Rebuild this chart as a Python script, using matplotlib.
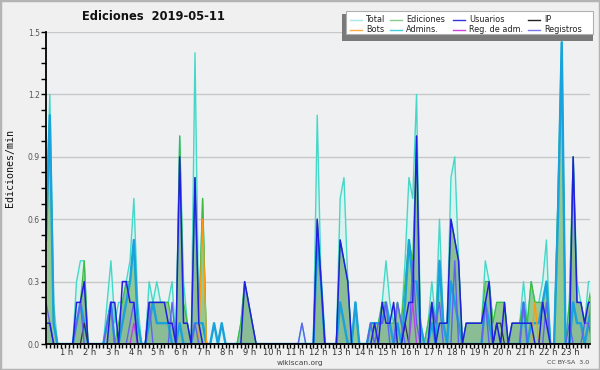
import matplotlib
matplotlib.use('Agg')
import matplotlib.pyplot as plt
import numpy as np
from matplotlib.patches import Rectangle
from matplotlib.lines import Line2D
import matplotlib.transforms as mtransforms

# 10-minute bins, edits per minute
total = [0.6,1.2,0.2,0,0,0,0,0,0.3,0.4,0.4,0,
         0,0,0,0,0.2,0.4,0.1,0.2,0.2,0.3,0.4,0.7,
         0.2,0,0,0.3,0.2,0.3,0.2,0.2,0.2,0.3,0,1.0,
         0.3,0.1,0,1.4,0.1,0.7,0,0,0.1,0,0.1,0,
         0,0,0,0.1,0.3,0.2,0.1,0,0,0,0,0,
         0,0,0,0,0,0,0,0.1,0,0,0,1.1,
         0.3,0,0,0,0,0.7,0.8,0.3,0,0.2,0,0,
         0,0.1,0.1,0.1,0.2,0.4,0.2,0.1,0.2,0.1,0.4,0.8,
         0.7,1.2,0.1,0,0.1,0.3,0.1,0.6,0.1,0.1,0.8,0.9,
         0.4,0,0.1,0.1,0.1,0.1,0.1,0.4,0.3,0.1,0.2,0.2,
         0.2,0,0.1,0.1,0.1,0.3,0.1,0.3,0.2,0.2,0.3,0.5,
         0,0,0.7,1.5,0,0.2,0.9,0.3,0.2,0.1,0.3,0.3]
ediciones = [0.6,1.1,0.1,0,0,0,0,0,0.1,0.2,0.4,0,
             0,0,0,0,0.1,0.2,0,0.1,0.2,0.3,0.3,0.5,
             0.1,0,0,0.2,0.2,0.2,0.2,0.2,0.2,0.1,0,1.0,
             0.2,0.1,0,0.8,0.1,0.7,0,0,0,0,0,0,
             0,0,0,0.1,0.3,0.2,0.1,0,0,0,0,0,
             0,0,0,0,0,0,0,0,0,0,0,0.6,
             0.3,0,0,0,0,0.5,0.4,0.3,0,0.2,0,0,
             0,0.1,0.1,0.1,0.2,0.2,0.1,0.1,0.2,0.1,0.3,0.5,
             0.4,1.0,0.1,0,0.1,0.2,0.1,0.4,0.1,0.1,0.6,0.5,
             0.4,0,0.1,0.1,0.1,0.1,0.1,0.3,0.3,0.1,0.2,0.2,
             0.2,0,0.1,0.1,0.1,0.2,0.1,0.3,0.2,0.2,0.2,0.3,
             0,0,0.7,1.4,0,0.2,0.9,0.2,0.2,0.1,0.2,0.3]
admins = [0.5,1.1,0.1,0,0,0,0,0,0.1,0.2,0.1,0,
          0,0,0,0,0.1,0.2,0,0,0.1,0.2,0.3,0.5,
          0.1,0,0,0.1,0.2,0.1,0.1,0.1,0.1,0,0,0.1,
          0,0,0,0.1,0.1,0.1,0,0,0.1,0,0.1,0,
          0,0,0,0,0,0,0,0,0,0,0,0,
          0,0,0,0,0,0,0,0,0,0,0,0.5,
          0.3,0,0,0,0,0.2,0.1,0,0,0.2,0,0,
          0,0.1,0.1,0.1,0.1,0.2,0.1,0,0.1,0,0.2,0.5,
          0.3,0.3,0.1,0,0,0.1,0,0.4,0.1,0,0.3,0.2,
          0.1,0,0,0,0,0,0,0.2,0.1,0,0,0,
          0,0,0,0,0,0.2,0,0.1,0.1,0.1,0.2,0.3,
          0,0,0.6,1.45,0,0,0.2,0.1,0.1,0,0.1,0.2]
usuarios = [0.1,0.1,0,0,0,0,0,0,0.2,0.2,0.3,0,
            0,0,0,0,0,0.2,0.2,0,0.3,0.3,0.2,0.2,
            0,0,0,0.2,0.2,0.2,0.2,0.2,0.1,0.1,0,0.9,
            0.1,0.1,0,0.8,0.1,0,0,0,0,0,0,0,
            0,0,0,0,0.3,0.2,0.1,0,0,0,0,0,
            0,0,0,0,0,0,0,0,0,0,0,0.6,
            0.3,0,0,0,0,0.5,0.4,0.3,0,0,0,0,
            0,0,0.1,0,0.2,0.1,0.1,0.2,0,0,0.1,0.2,
            0.2,1.0,0,0,0,0.2,0,0.1,0.1,0.1,0.6,0.5,
            0.4,0,0.1,0.1,0.1,0.1,0.1,0.2,0.3,0,0.1,0,
            0.2,0,0.1,0.1,0.1,0.1,0.1,0.1,0,0,0.2,0.1,
            0,0,0,0,0,0,0.9,0.2,0.2,0.1,0.2,0.2]
registros = [0.2,0.1,0,0,0,0,0,0,0.1,0.2,0,0,
             0,0,0,0,0.1,0.2,0,0,0,0,0.1,0.2,
             0,0,0,0.2,0,0,0,0,0,0.2,0,0,
             0,0,0,0.1,0,0,0,0,0,0,0,0,
             0,0,0,0,0,0,0,0,0,0,0,0,
             0,0,0,0,0,0,0,0.1,0,0,0,0,
             0,0,0,0,0,0,0,0,0,0,0,0,
             0,0.1,0,0.1,0.1,0.2,0,0,0.2,0.1,0,0,
             0.4,0.1,0,0,0,0.2,0.1,0.2,0,0,0,0.4,
             0,0,0,0,0,0,0,0.2,0,0,0,0,
             0,0,0,0,0,0.2,0,0,0,0,0,0.2,
             0,0,0,0,0,0.1,0,0,0,0.1,0.1,0]
ip = [0,0,0,0,0,0,0,0,0,0,0.1,0] + [0]*72 + \
     [0,0,0,0,0,0,0,0,0,0,0.1,0] + [0]*12 + \
     [0,0,0,0,0,0,0,0,0,0,0.1,0.1] + [0]*24
bots = [0]*41 + [0.6] + [0]*86 + [0.2] + [0]*15
regadm = [0]*23 + [0.1] + [0]*72 + [0.2] + [0]*47
hours = list(range(1, 24))
hour_labels = [f"{h} h" for h in hours]

W, H = 600, 370
fig = plt.figure(figsize=(6, 3.7), dpi=100, facecolor='#f0f0f0')
fig.patches.append(Rectangle((0, 0), 1, 1, transform=fig.transFigure, fill=False,
                             edgecolor='#b4b4b4', lw=2.5, zorder=0))
ax = fig.add_axes([46/W, 26/H, 544/W, 312/H])
ax.set_facecolor('#eef0f2')

x = np.arange(len(total))
ax.fill_between(x, total, color='#d8f3ef', lw=0, zorder=1)
ax.fill_between(x, ediciones, color='#93ca93', lw=0, zorder=1.1)
ax.fill_between(x, usuarios, color='#5060b0', alpha=0.12, lw=0, zorder=1.2)
ax.plot(x, total, color='#45d8c8', lw=1.0, zorder=2)
ax.plot(x, ediciones, color='#3fbb3f', lw=0.9, zorder=2.1)
ax.plot(x, admins, color='#19a2dc', lw=1.7, zorder=2.2)
ax.plot(x, ip, color='#333333', lw=0.9, zorder=2.3)
ax.plot(x, bots, color='#ff9a10', lw=1.0, zorder=2.4)
ax.plot(x, regadm, color='#c040e8', lw=1.0, zorder=2.5)
ax.plot(x, registros, color='#6262f0', lw=1.0, zorder=2.6)
ax.plot(x, usuarios, color='#2020e0', lw=1.1, zorder=2.7)

ax.set_xlim(0, 142.4)
ax.set_ylim(0, 1.5)
ax.set_yticks([0, 0.3, 0.6, 0.9, 1.2, 1.5])
ax.set_yticklabels(['0.0', '0.3', '0.6', '0.9', '1.2', '1.5'])
ax.set_yticks(np.arange(0, 1.5001, 0.075), minor=True)
ax.yaxis.grid(True, color='#c8c8c8', lw=1)
ax.set_axisbelow(True)
ax.set_xticks([6*h for h in hours])
ax.set_xticklabels(hour_labels)
ax.set_xticks(np.arange(0, 143, 1), minor=True)
ax.tick_params(axis='y', which='both', direction='out', length=3.5, width=1,
               color='black', labelsize=5.5, labelcolor='#555555', pad=1)
ax.tick_params(axis='x', which='both', direction='out', length=3, width=1,
               color='black', labelsize=6.0, labelcolor='#333333', pad=0)
offset = mtransforms.ScaledTranslation(-2.5/100, 0, fig.dpi_scale_trans)
for lab in ax.get_xticklabels():
    lab.set_transform(lab.get_transform() + offset)
for s in ['top', 'right']:
    ax.spines[s].set_visible(False)
for s in ['left', 'bottom']:
    ax.spines[s].set_color('black')
    ax.spines[s].set_linewidth(1.3)
    ax.spines[s].set_zorder(5)

fig.text(153/W, 1 - 16/H, 'Ediciones  2019-05-11', fontsize=8.3, fontweight='bold',
         ha='center', va='center', color='#111111')
fig.text(10/W, 1 - 168/H, 'Ediciones/min', fontsize=7.2, family='DejaVu Sans Mono',
         rotation=90, ha='center', va='center', color='#111111')
fig.text(300/W, 1 - 362.5/H, 'wikiscan.org', fontsize=5.4, ha='center', va='center',
         color='#444444')
fig.text(589/W, 1 - 362.5/H, 'CC BY-SA  3.0', fontsize=4.5, ha='right', va='center',
         color='#444444')

# legend
def px(xp, yp):
    return xp / W, 1 - yp / H

fig.patches.append(Rectangle(px(342, 41), 251/W, 27/H, transform=fig.transFigure,
                             facecolor='#7a7a7a', edgecolor='none', zorder=10))
fig.patches.append(Rectangle(px(346, 34), 247/W, 23/H, transform=fig.transFigure,
                             facecolor='white', edgecolor='#b0b0b0', lw=0.8, zorder=11))
leg_items = [
    ('Total', '#a8e8e8', 350, 19.5), ('Ediciones', '#88cc88', 390, 19.5),
    ('Usuarios', '#3333dd', 453, 19.5), ('IP', '#222222', 528, 19.5),
    ('Bots', '#ffaa44', 350, 29.5), ('Admins.', '#44ccdd', 390, 29.5),
    ('Reg. de adm.', '#cc44dd', 453, 29.5), ('Registros', '#7777ee', 528, 29.5),
]
for name, col, lx, ly in leg_items:
    x0, y0 = px(lx, ly)
    fig.lines.append(Line2D([x0, x0 + 12/W], [y0, y0], transform=fig.transFigure,
                            color=col, lw=1, zorder=12))
    fig.text(x0 + 16/W, y0, name, fontsize=5.9, ha='left', va='center',
             color='#222222', zorder=12)

fig.savefig('out.png', dpi=100, facecolor=fig.get_facecolor())
